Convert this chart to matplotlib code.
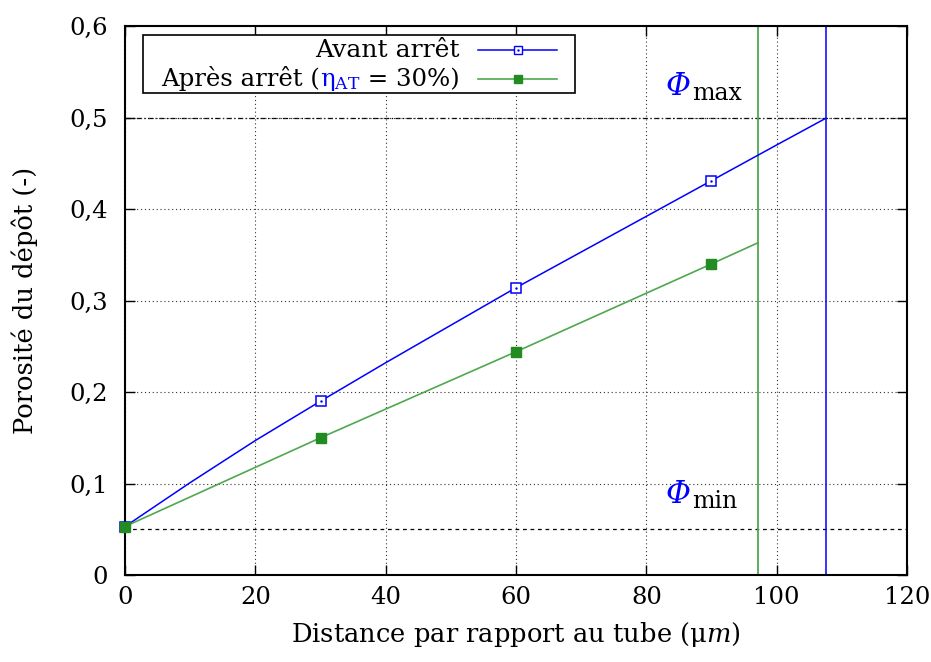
import matplotlib
matplotlib.use("Agg")
import matplotlib.pyplot as plt
from matplotlib.lines import Line2D
from matplotlib.patches import Rectangle
from matplotlib.transforms import offset_copy
from matplotlib.ticker import FuncFormatter, MultipleLocator

plt.rcParams['font.family'] = ['DejaVu Serif']
plt.rcParams['mathtext.fontset'] = 'dejavuserif'

# points mesurés
x_pts = [0, 30, 60, 90]
avant_pts = [0.053, 0.190, 0.314, 0.431]
apres_pts = [0.053, 0.150, 0.244, 0.340]

# courbes continues
x_avant = [0, 10, 20, 30, 40, 50, 60, 70, 80, 90, 100, 107.5]
avant_curve = [0.053, 0.101, 0.147, 0.190, 0.232, 0.273, 0.314, 0.353, 0.392, 0.431, 0.470, 0.499]
x_apres = [0, 30, 60, 90, 97.1]
apres_curve = [0.053, 0.150, 0.244, 0.340, 0.363]

phi_max = 0.5
phi_min = 0.05
x_lim_avant = 107.5
x_lim_apres = 97.1

BLUE = '#0000ff'
GREEN = '#228b22'
GREEN_L = '#4fa84f'

fig = plt.figure(figsize=(9.31, 6.62), dpi=100)
ax = fig.add_axes([0.1343, 0.1314, 0.8399, 0.8293])

ax.set_xlim(0, 120)
ax.set_ylim(0, 0.6)
ax.xaxis.set_major_locator(MultipleLocator(20))
ax.yaxis.set_major_locator(MultipleLocator(0.1))
ax.yaxis.set_major_formatter(FuncFormatter(
    lambda v, p: '0' if abs(v) < 1e-9 else ('%.1f' % v).replace('.', ',')))
ax.tick_params(direction='in', length=7, width=1, top=True, right=True,
               labelsize=17.5, pad=8)
ax.tick_params(axis='y', pad=12)
for s in ax.spines.values():
    s.set_linewidth(1.5)
ax.grid(True, linestyle=(0, (1, 2.5)), color='#333333', linewidth=0.8)

# lignes de référence
ax.axhline(phi_max, color='black', lw=0.9, ls=(0, (4, 2, 1, 2)), zorder=1)
ax.axhline(phi_min, color='black', lw=0.9, ls=(0, (3, 3)), zorder=1)
ax.axvline(x_lim_apres, color=GREEN_L, lw=1.3)
ax.axvline(x_lim_avant, color=BLUE, lw=1.1)

# courbes
ax.plot(x_avant, avant_curve, color=BLUE, lw=1.1, zorder=3)
ax.plot(x_apres, apres_curve, color=GREEN_L, lw=1.2, zorder=3)
ax.plot(x_pts, avant_pts, 's', mfc='white', mec=BLUE, mew=1.1, ms=7, zorder=4, clip_on=False)
ax.plot(x_pts, avant_pts, '.', color=BLUE, ms=1.5, zorder=5)
ax.plot(x_pts, apres_pts, 's', color=GREEN, ms=7, zorder=6, clip_on=False)

ax.set_xlabel(r'Distance par rapport au tube ($\mathrm{\mu}m$)', fontsize=18.5, labelpad=8)
ax.set_ylabel('Porosité du dépôt (-)', fontsize=18.5, labelpad=23)

# annotations Phi
for yv, sub in [(0.525, 'max'), (0.079, 'min')]:
    ax.text(83.0, yv, 'Φ', color=BLUE, fontsize=22, style='italic', va='baseline')
    ax.text(87.0, yv, sub, color='black', fontsize=17, va='baseline',
            transform=offset_copy(ax.transData, fig, x=0, y=-5, units='dots'))

# légende à la gnuplot
ax.add_patch(Rectangle((0.023, 0.878), 0.552, 0.1056, transform=ax.transAxes,
                       fill=True, facecolor='white', edgecolor='black', lw=1.2, zorder=7))
ax.add_line(Line2D([0.452, 0.553], [0.956, 0.956], transform=ax.transAxes,
                   color=BLUE, lw=1.1, zorder=8))
ax.add_line(Line2D([0.5025], [0.956], transform=ax.transAxes, marker='s', ms=6,
                   mfc='white', mec=BLUE, mew=1.0, zorder=9))
ax.add_line(Line2D([0.5025], [0.956], transform=ax.transAxes, marker='.', ms=1.5,
                   color=BLUE, zorder=10))
ax.add_line(Line2D([0.452, 0.553], [0.9035, 0.9035], transform=ax.transAxes,
                   color=GREEN_L, lw=1.2, zorder=8))
ax.add_line(Line2D([0.5025], [0.9035], transform=ax.transAxes, marker='s', ms=6,
                   color=GREEN, zorder=9))

right = 0.428
ax.text(right, 0.9435, 'Avant arrêt', ha='right', va='baseline', fontsize=18,
        transform=ax.transAxes, zorder=9)

pieces = [('Après arrêt (', 'black'), (r'$\mathrm{\eta}_{\mathrm{AT}}$', BLUE), (' = 30%)', 'black')]
texts = [ax.text(right, 0.8907, s, color=c, ha='left', va='baseline', fontsize=17.6,
                 transform=ax.transAxes, zorder=9) for s, c in pieces]
fig.canvas.draw()
r = fig.canvas.get_renderer()
widths = [t.get_window_extent(r).width for t in texts]
total = sum(widths)
off = -total
for t, w in zip(texts, widths):
    t.set_transform(offset_copy(ax.transAxes, fig, x=off, y=0, units='dots'))
    off += w

fig.savefig('out.png', dpi=100)
